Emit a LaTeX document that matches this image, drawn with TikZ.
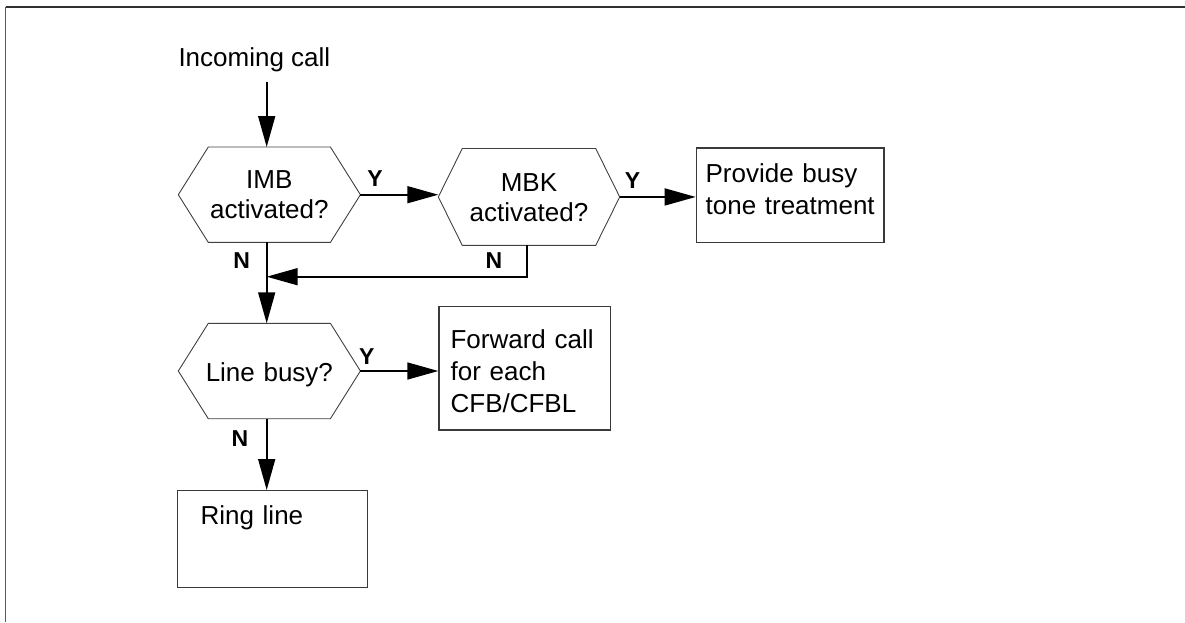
\documentclass[tikz,border=0pt]{standalone}
\usepackage{fontspec}
\setmainfont{Liberation Sans}
\usetikzlibrary{arrows.meta}
\definecolor{framegray}{HTML}{303030}
\definecolor{boxgray}{HTML}{3A3A3A}
\definecolor{hexgray}{HTML}{404040}
% hexagonal outline drawn around a (rectangular, invisible) decision node
\newcommand\hexoutline[2]{%
  \draw[hexline] (#1.west) -- ([xshift=#2]#1.north west) -- ([xshift=-#2]#1.north east)
    -- (#1.east) -- ([xshift=-#2]#1.south east) -- ([xshift=#2]#1.south west) -- cycle;}
\begin{document}
\begin{tikzpicture}[x=1pt,y=-1pt,
  every node/.style={inner sep=0pt},
  txt/.style={font=\fontsize{26}{30}\selectfont},
  yn/.style={font=\bfseries\fontsize{23}{27}\selectfont},
  decision/.style={txt, align=center, anchor=north west},
  box/.style={font=\fontsize{26}{31.7}\selectfont,
    draw=boxgray, line width=1.2pt, align=left, anchor=north west, inner ysep=0pt},
  hexline/.style={draw=hexgray, line width=0.9pt, line join=miter},
  arr/.style={line width=1.6pt, -{Triangle[length=31pt,width=17pt]}}]
\useasboundingbox (0,0) rectangle (1185,622);

% page frame (top and left rules)
\draw[framegray, line width=1.8pt] (5.7,6.7) -- (1185,6.7);
\draw[framegray!80, line width=1.3pt] (5.7,6.7) -- (5.7,622);

% vertical spine of the main flow
\coordinate (spine) at (266.7,0);
\coordinate (callstart) at (266.7,81.7);
\coordinate (join) at (266.7,276.7);

% start text
\node[txt, anchor=base west] (inc) at (178.3,66.7) {Incoming call};

% decisions
\node[decision, text width=181.7pt, text height=41.3pt, text depth=53.7pt]
  (imb) at (178.3,147) {IMB\\activated?};
\node[decision, text width=181pt, text height=42.5pt, text depth=54pt]
  (mbk) at (438.3,148.5) {MBK\\activated?};
\node[decision, text width=181.7pt, text height=57.7pt, text depth=37.3pt]
  (lb) at (178.3,323.3) {Line busy?};
\hexoutline{imb}{30}
\hexoutline{mbk}{24}
\hexoutline{lb}{30}

% actions
\node[box, inner xsep=9.3pt, text width=169pt, text height=34.4pt, text depth=60pt]
  (busy) at (695.7,147.3) {Provide busy\\\mbox{tone treatment}};
\node[box, inner xsep=11.7pt, text width=148.3pt, text height=42pt, text depth=81.3pt]
  (fwd) at (438.3,306) {Forward call\\for each\\CFB/CFBL};
\node[box, inner xsep=23.3pt, text width=143.4pt, text height=33.5pt, text depth=63.2pt]
  (ring) at (176.7,490) {Ring line};

% connectors
\draw[arr] (callstart) -- (imb.north -| spine);
\draw[arr] (imb.east) -- (imb.east -| mbk.west);
\draw[arr] (mbk.east) -- (mbk.east -| busy.west);
\draw[arr] (imb.south -| spine) -- (lb.north -| spine);
\draw[arr] ([xshift=-2pt]mbk.south) |- (join);
\draw[arr] (lb.east) -- (lb.east -| fwd.west);
\draw[arr] (lb.south -| spine) -- (ring.north -| spine);

% branch labels
\node[yn] (y1) at (375,179) {Y};
\node[yn] (y2) at (632.5,180.5) {Y};
\node[yn] (n1) at (241.7,260.7) {N};
\node[yn] (n2) at (494,260.7) {N};
\node[yn] (y3) at (366.7,356.5) {Y};
\node[yn] (n3) at (240,438.3) {N};
\end{tikzpicture}
\end{document}
